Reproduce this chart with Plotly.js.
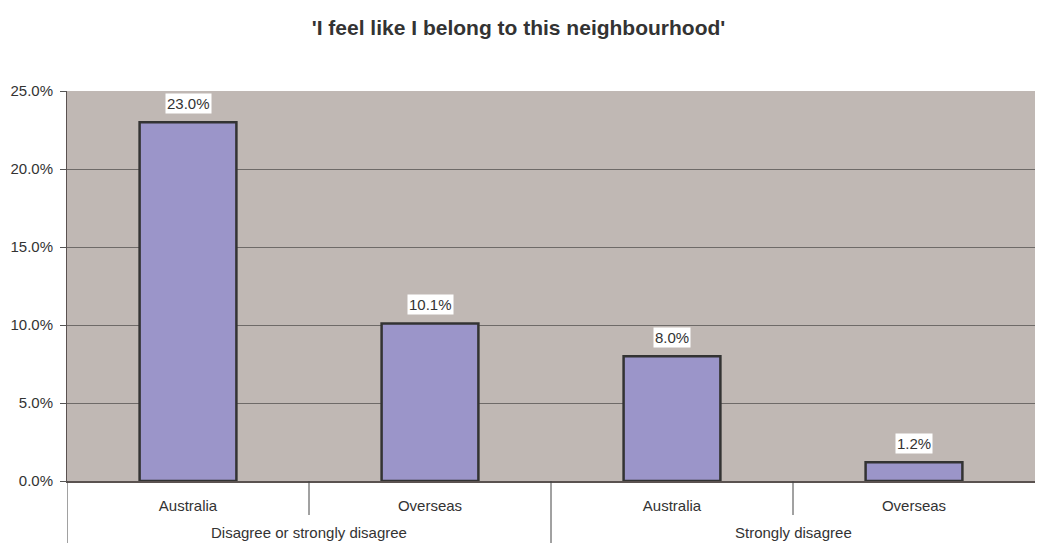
<!DOCTYPE html>
<html>
<head>
<meta charset="utf-8">
<script src="https://cdn.plot.ly/plotly-3.0.1.min.js"></script>
<style>html,body{margin:0;padding:0;background:#fff}#chart{width:1037px;height:543px}</style>
</head>
<body>
<div id="chart"></div>
<script>
const groups = ["Disagree or strongly disagree", "Disagree or strongly disagree", "Strongly disagree", "Strongly disagree"];
const origins = ["Australia", "Overseas", "Australia", "Overseas"];
const values = [0.230, 0.101, 0.080, 0.012];
const titleText = "'I feel like I belong to this neighbourhood'";

const FONT = 'Liberation Sans, Arial, Helvetica, sans-serif';
const idx = values.map((_, i) => i);

const trace = {
  type: 'bar',
  x: idx,
  y: values,
  width: 0.4,
  marker: {color: '#9b95c9', line: {color: '#333333', width: 2.5}},
  hoverinfo: 'none'
};

// data labels
const annotations = values.map((v, i) => ({
  x: i, y: v, xref: 'x', yref: 'y',
  text: (v * 100).toFixed(1) + '%',
  showarrow: false, yshift: 19, yanchor: 'middle',
  bgcolor: '#ffffff', borderpad: 1,
  font: {family: FONT, size: 15, color: '#333'}
}));

// group labels (centered under each group)
const uniqueGroups = [...new Set(groups)];
const plotH = 543 - 91 - 62;
uniqueGroups.forEach(g => {
  const members = idx.filter(i => groups[i] === g);
  const mid = (members[0] + members[members.length - 1]) / 2;
  annotations.push({
    x: mid, y: -(532 - 481) / plotH, xref: 'x', yref: 'paper',
    text: g, showarrow: false, yanchor: 'middle',
    font: {family: FONT, size: 15, color: '#333'}
  });
});

// boundary ticks and group dividers
const shapes = [];
for (let i = 0; i < idx.length - 1; i++) {
  const b = i + 0.5;
  const isGroupEdge = groups[i] !== groups[i + 1];
  shapes.push({type: 'line', xref: 'x', yref: 'paper', x0: b, x1: b, y0: 0,
    y1: isGroupEdge ? -62 / plotH : -(515 - 481) / plotH,
    line: {color: '#444', width: 1}});
}
shapes.push({type: 'line', xref: 'x', yref: 'paper', x0: -0.5, x1: -0.5, y0: 0, y1: -62 / plotH,
  line: {color: '#444', width: 1}});

const layout = {
  width: 1037, height: 543,
  margin: {l: 67, r: 2, t: 91, b: 62},
  paper_bgcolor: '#ffffff',
  plot_bgcolor: '#c0b8b4',
  font: {family: FONT, size: 15, color: '#333'},
  title: {text: '<b>' + titleText + '</b>', x: 0.5, xanchor: 'center', y: 0.950, yanchor: 'middle',
          font: {family: FONT, size: 21, color: '#333'}},
  showlegend: false,
  xaxis: {
    type: 'linear', range: [-0.5, 3.5],
    tickmode: 'array', tickvals: idx, ticktext: origins,
    ticks: '', showgrid: false, zeroline: false,
    showline: true, linecolor: '#5a5250', linewidth: 2,
    ticklabelstandoff: 10,
    tickfont: {family: FONT, size: 15, color: '#333'}
  },
  yaxis: {
    range: [0, 0.25], dtick: 0.05, tickformat: '.1%',
    showgrid: true, gridcolor: '#6e6a68', gridwidth: 1,
    ticks: 'outside', ticklen: 6, tickcolor: '#555',
    showline: true, linecolor: '#5a5250', linewidth: 1,
    zeroline: false,
    ticklabelstandoff: 4,
    tickfont: {family: FONT, size: 15, color: '#333'}
  },
  annotations: annotations,
  shapes: shapes
};
Plotly.newPlot('chart', [trace], layout, {displayModeBar: false, staticPlot: true});
</script>
</body>
</html>
